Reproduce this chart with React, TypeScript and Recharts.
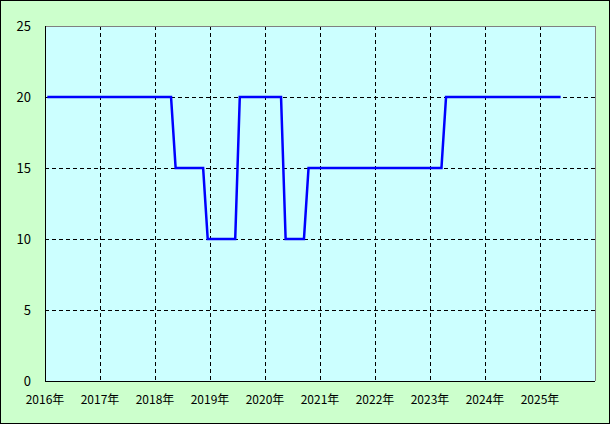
import { LineChart, Line, XAxis, YAxis, CartesianGrid, ReferenceLine } from 'recharts';

// corner points of the monthly series (month, value); straight segments between them
const months = [
  '2016-01', '2018-04', '2018-05', '2018-11', '2018-12', '2019-06', '2019-07',
  '2020-04', '2020-05', '2020-09', '2020-10', '2023-03', '2023-04', '2025-05',
];
const values = [20, 20, 15, 15, 10, 10, 20, 20, 10, 10, 15, 15, 20, 20];

const yearLabels = ['2016年', '2017年', '2018年', '2019年', '2020年', '2021年', '2022年', '2023年', '2024年', '2025年'];
const yTicks = [0, 5, 10, 15, 20, 25];

// month index from Jan 2016, placed mid-month
const toX = (ym: string) => {
  const [y, m] = ym.split('-').map(Number);
  return (y - 2016) * 12 + (m - 1) + 0.5;
};

const data = months.map((m, i) => ({ x: toX(m), value: values[i] }));
const xTicks = yearLabels.map((_, i) => i * 12);

const font = '"Noto Sans CJK JP", "Noto Sans", sans-serif';

export default function App() {
  return (
    <div style={{ position: 'fixed', left: 0, top: 0, width: 610, height: 424, background: '#ccffcc', boxSizing: 'border-box', border: '1px solid #000' }}>
      <div style={{ position: 'absolute', left: -1, top: -1 }}>
        <LineChart width={610} height={424} data={data} margin={{ top: 26, right: 15, bottom: 0, left: 0 }}>
          <CartesianGrid stroke="#000" strokeDasharray="4 3" fill="#ccffff" fillOpacity={1} shapeRendering="crispEdges" />
          <XAxis
            type="number"
            dataKey="x"
            domain={[0, 120]}
            ticks={xTicks}
            interval={0}
            tickFormatter={(v: number) => yearLabels[v / 12] ?? ''}
            height={43}
            axisLine={{ stroke: '#000', shapeRendering: 'crispEdges' }}
            tickLine={false}
            tickSize={0}
            tickMargin={14}
            tick={{ fill: '#000', fontSize: 12, fontFamily: font }}
          />
          <YAxis
            type="number"
            domain={[0, 25]}
            ticks={yTicks}
            interval={0}
            width={45}
            axisLine={{ stroke: '#000', shapeRendering: 'crispEdges' }}
            tickLine={false}
            tickSize={0}
            tickMargin={14}
            tick={{ fill: '#000', fontSize: 13, fontFamily: font }}
          />
          <ReferenceLine y={25} stroke="#808080" shapeRendering="crispEdges" />
          <ReferenceLine x={120} stroke="#808080" shapeRendering="crispEdges" />
          <Line
            type="linear"
            dataKey="value"
            stroke="#0000ff"
            strokeWidth={2.5}
            dot={false}
            isAnimationActive={false}
          />
        </LineChart>
      </div>
    </div>
  );
}
